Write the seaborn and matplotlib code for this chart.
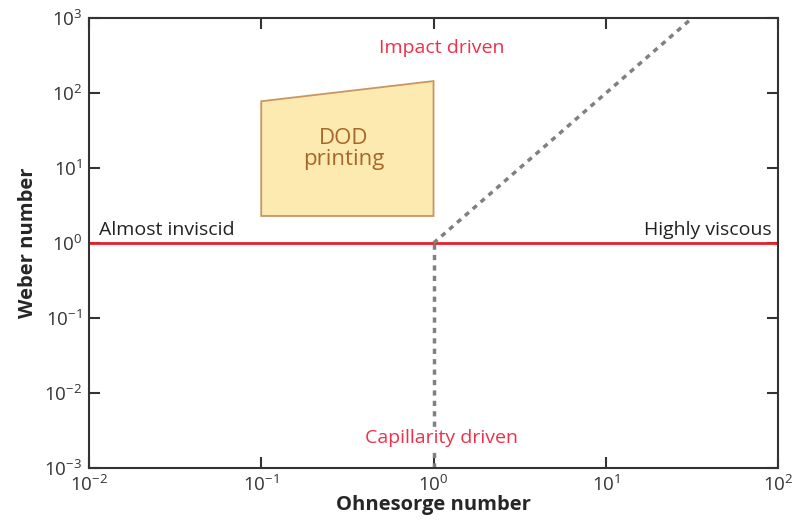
import matplotlib
matplotlib.use('Agg')
import matplotlib.pyplot as plt
import numpy as np
import pandas as pd
import seaborn as sns

# regime boundaries (Ohnesorge, Weber)
boundary_oh = [1e-2, 1e2]
boundary_we = [1.0, 1.0]
capillary_oh = [1.0, 1.0]
capillary_we = [1e-3, 1.0]
impact_oh = [1.0, 10 ** 1.5]
impact_we = [1.0, 1e3]

# DOD printing window corners
dod_oh = [0.1, 1.0, 1.0, 0.1]
dod_we = [78, 145, 2.3, 2.3]

sns.set_style('ticks')
plt.rcParams['font.family'] = ['Open Sans', 'DejaVu Sans']
plt.rcParams['mathtext.fontset'] = 'custom'
plt.rcParams['mathtext.rm'] = 'Open Sans'
plt.rcParams['mathtext.it'] = 'Open Sans:italic'
plt.rcParams['mathtext.bf'] = 'Open Sans:bold'

fig = plt.figure(figsize=(7.94, 5.2), dpi=100)
ax = fig.add_axes([0.112, 0.1, 0.868, 0.865])

ax.fill(dod_oh, dod_we, facecolor='#fdeab0', edgecolor='#c99561', lw=1.3, zorder=1)
ax.text(0.3, 18, 'DOD\nprinting', ha='center', va='center', fontsize=16,
        color='#a8672a', linespacing=1.0)

df_b = pd.DataFrame({'oh': boundary_oh, 'we': boundary_we})
sns.lineplot(data=df_b, x='oh', y='we', color='#e8202a', lw=2, ax=ax)

dash_color = '#808080'
sns.lineplot(x=capillary_oh, y=capillary_we, color=dash_color, lw=2.5, ax=ax,
             estimator=None, sort=False, linestyle=(0, (1.5, 1.5)))
sns.lineplot(x=impact_oh, y=impact_we, color=dash_color, lw=2.5, ax=ax,
             estimator=None, sort=False, linestyle=(0, (1.5, 1.5)))

ax.set_xscale('log')
ax.set_yscale('log')
ax.set_xlim(1e-2, 1e2)
ax.set_ylim(1e-3, 1e3)
ax.set_xticks([1e-2, 1e-1, 1e0, 1e1, 1e2])
ax.set_yticks([1e-3, 1e-2, 1e-1, 1e0, 1e1, 1e2, 1e3])
ax.minorticks_off()

red = '#f0304a'
ax.text(1.11, 400, 'Impact driven', ha='center', va='center', color=red, fontsize=14)
ax.text(1.11, 0.0025, 'Capillarity driven', ha='center', va='center', color=red, fontsize=14,
        zorder=5, bbox=dict(facecolor='white', edgecolor='none', pad=1))
ax.text(0.0115, 1.15, 'Almost inviscid', ha='left', va='bottom', color='#222222', fontsize=14)
ax.text(92, 1.15, 'Highly viscous', ha='right', va='bottom', color='#222222', fontsize=14)

ax.set_xlabel('Ohnesorge number', fontsize=14.5, fontweight='bold', labelpad=0)
ax.set_ylabel('Weber number', fontsize=14.5, fontweight='bold', labelpad=4)

for s in ax.spines.values():
    s.set_visible(True)
    s.set_color('#333333')
    s.set_linewidth(1.5)
ax.tick_params(which='both', direction='in', top=True, right=True, length=8,
               width=1.5, color='#333333', labelsize=13.5, labelcolor='#333333', pad=5)

fig.savefig('out.png', dpi=100)
